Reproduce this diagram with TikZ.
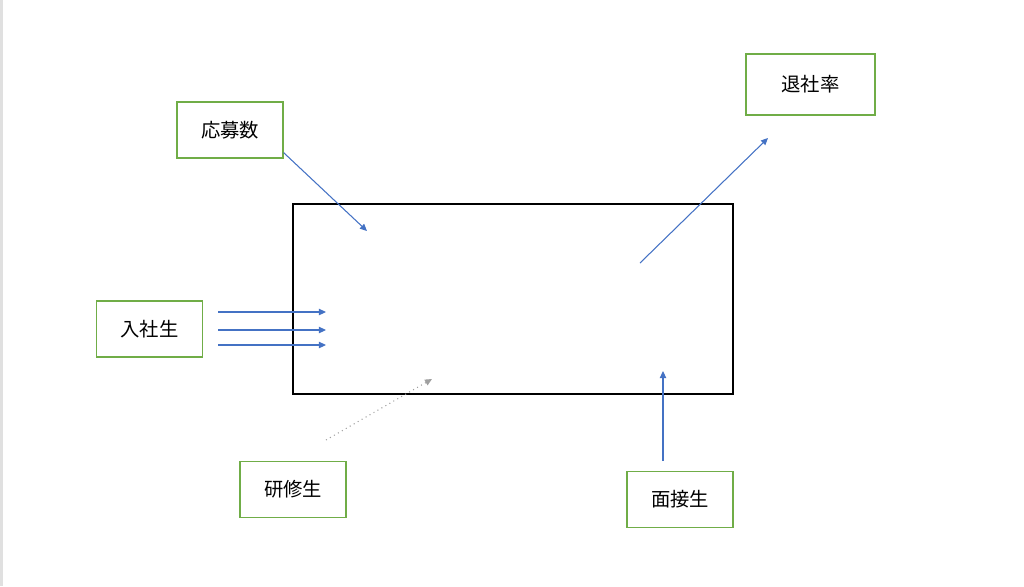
\documentclass[tikz,border=0pt]{standalone}
\usepackage{fontspec}
\setmainfont{Noto Sans CJK JP}
\usetikzlibrary{arrows.meta}
\definecolor{boxgreen}{HTML}{70AD47}
\definecolor{flowblue}{HTML}{4472C4}
\definecolor{dotgrey}{HTML}{A0A0A0}
\tikzset{
    label box/.style={draw=boxgreen, line width=0.7pt, minimum width=2.12cm, minimum height=1.12cm, inner sep=0pt, font=\fontsize{11}{13}\selectfont},
    flow/.style={flowblue, line width=0.6pt, -{Triangle[length=4pt,width=3.6pt]}},
    weak flow/.style={dotgrey, line width=0.6pt, dotted, -{Triangle[length=4pt,width=3.6pt]}}
}
\begin{document}
\begin{tikzpicture}[x=0.02cm, y=-0.02cm]
    % Page
    \useasboundingbox (0,0) rectangle (1024,586);
    \fill[black!12] (0,0) rectangle (3,586);

    % Organisation (central frame)
    \node[draw, line width=0.8pt, minimum width=8.8cm, minimum height=3.8cm, inner sep=0pt] (org) at (513,299) {};

    % Label boxes
    \node[label box] (oubo) at (230,130) {応募数};
    \node[label box] (nyusha) at (149.5,329) {入社生};
    \node[label box, minimum width=2.58cm, minimum height=1.22cm] (taisha) at (810.5,84.5) {退社率};
    \node[label box] (mensetsu) at (680,499.5) {面接生};
    \node[label box] (kenshu) at (293,489.5) {研修生};

    % Free ends
    \coordinate (oubo end) at (367,231);
    \coordinate (taisha start) at (640,263); \coordinate (taisha end) at (768,138);
    \coordinate (mensetsu start) at (663,461); \coordinate (mensetsu end) at (663,371);
    \coordinate (kenshu start) at (326,440); \coordinate (kenshu end) at (432,379);

    % Flows
    \draw[flow] ([yshift=0.12cm]oubo.south east) -- (oubo end);
    \foreach \y [count=\i] in {312,330,345} {
        \coordinate (n\i a) at (218,\y); \coordinate (n\i b) at (326,\y);
        \draw[flow] (n\i a) -- (n\i b);
    }
    \draw[flow] (taisha start) -- (taisha end);
    \draw[flow] (mensetsu start) -- (mensetsu end);
    \draw[weak flow] (kenshu start) -- (kenshu end);
\end{tikzpicture}
\end{document}
